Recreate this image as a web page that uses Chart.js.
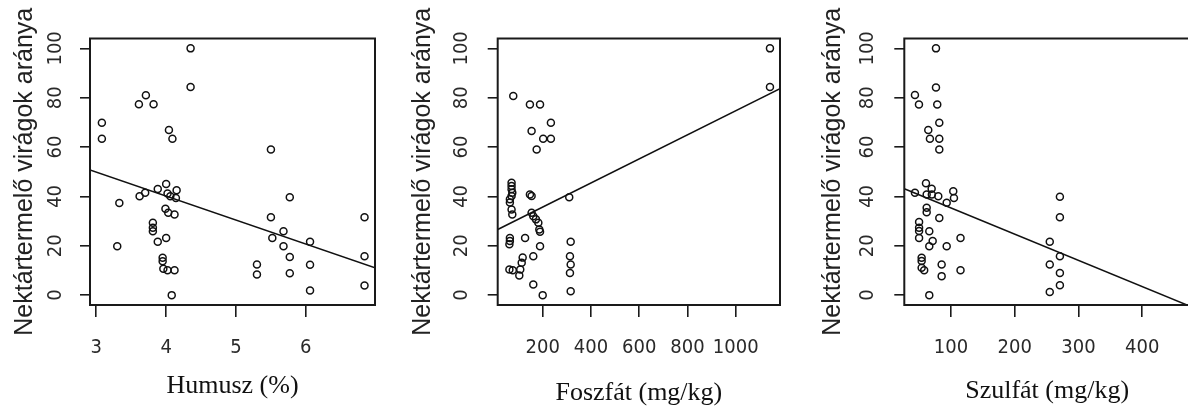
<!DOCTYPE html>
<html><head><meta charset="utf-8">
<script src="https://cdn.jsdelivr.net/npm/chart.js@4.4.1/dist/chart.umd.min.js"></script>
<style>
html,body{margin:0;padding:0;background:#fff;overflow:hidden;width:1188px;height:414px;position:relative;}
canvas{position:absolute;top:0;}
</style></head><body>
<canvas id="c1" width="395" height="414" style="left:0px"></canvas>
<canvas id="c2" width="400" height="414" style="left:395px"></canvas>
<canvas id="c3" width="400" height="414" style="left:795px"></canvas>
<script>
// ---- data ----
const yTicks = [0, 20, 40, 60, 80, 100];
const yLabel = 'Nektártermelő virágok aránya';

const humuszTicks = [3, 4, 5, 6];
const humuszX = [4.35,4.35,3.71,3.61,3.82,3.08,3.08,4.04,4.09,5.50,3.33,3.30,3.62,3.70,3.88,4.00,4.02,4.06,4.15,4.14,3.99,4.03,4.12,3.81,3.81,3.81,4.00,3.88,3.95,3.95,3.96,4.02,4.12,4.08,5.50,5.52,5.30,5.30,5.77,5.68,5.68,5.77,6.06,6.06,5.77,6.06,6.84,6.84,6.84];
const humuszY = [100,84.3,81,77.4,77.4,69.9,63.4,66.9,63.4,59,37.3,19.8,40.1,41.5,43,45,41.2,40.1,42.5,39.4,35,33.4,32.7,29.3,27.3,25.9,23.2,21.6,15.1,13.7,10.7,10.1,10.1,0,31.6,23.2,12.4,8.4,39.7,25.9,19.8,15.5,21.6,12.3,8.9,1.9,31.6,15.8,3.9];
const humuszFitX = [2.91, 6.99];
const humuszFitY = [50.7, 11.1];

const foszfatTicks = [200, 400, 600, 800, 1000];
const foszfatX = [1142,1142,78,147,189,234,154,202,234,175,310,
  71,71,71,74,71,64,64,71,74,
  147,154,154,161,172,182,186,189,127,189,161,161,200,
  64,64,62,62,76,103,107,113,117,
  316,313,316,313,316];
const foszfatY = [100,84.3,80.7,77.3,77.3,69.9,66.5,63.4,63.4,59,39.7,
  45.5,44.2,42.9,41.5,40.2,38.9,37.5,34.7,32.7,
  40.8,40.2,33.4,32,30.7,29.3,26.6,25.7,23.2,19.8,15.8,4.3,0,
  23.2,21.9,20.6,10.4,10.1,8,10.4,13.1,15.2,
  21.6,15.8,12.4,9,1.6];
const foszfatFitX = [13.5, 1183.6];
const foszfatFitY = [26.6, 83.7];

const szulfatTicks = [100, 200, 300, 400];
const szulfatX = [76.5,76.5,43.5,49.8,78.5,81.7,64.4,67,81.7,81.7,
  60.8,69.7,43.5,61.9,70,80.1,93.3,103.6,104.7,61.9,61.9,81.7,
  50,50,50,50,66,71.3,66,93.3,115,
  54,54,54,58,85.4,85.4,115,66,
  270.9,270.9,255,270.9,255,270.9,270.9,255];
const szulfatY = [100,84.1,81.1,77.3,77.3,69.9,66.9,63.4,63.4,59,
  45.3,43.1,41.5,40.8,40.8,40.1,37.4,42.1,39.4,35.4,33.6,31.3,
  29.6,27.3,26,23.2,25.9,21.9,19.8,19.8,23.2,
  15.1,13.8,11.1,10.1,12.4,7.7,10.1,0,
  39.9,31.6,21.6,15.8,12.4,9,4,1.3];
const szulfatFitX = [26.8, 475];
const szulfatFitY = [43.1, -4.5];

// ---- drawing ----
const tickFont = {family: "'Liberation Sans Narrow','DejaVu Sans Condensed','Liberation Sans',Arial,sans-serif", size: 20};
const boxPlugin = {
  id: 'rbox',
  afterDatasetsDraw(chart) {
    const {ctx, chartArea: a} = chart;
    ctx.save();
    ctx.strokeStyle = '#1a1a1a';
    ctx.lineWidth = 2;
    ctx.strokeRect(a.left, a.top, a.right - a.left, a.bottom - a.top);
    ctx.restore();
  }
};

function panel(id, p) {
  const pts = p.xs.map((x, i) => ({x: x, y: p.ys[i]}));
  const fit = p.fx.map((x, i) => ({x: x, y: p.fy[i]}));
  new Chart(document.getElementById(id), {
    type: 'scatter',
    data: {
      datasets: [
        {type: 'scatter', data: pts, pointRadius: 3.5, pointHoverRadius: 3.5, borderWidth: 1.5,
         borderColor: '#111', backgroundColor: 'rgba(0,0,0,0)', pointStyle: 'circle'},
        {type: 'line', data: fit, pointRadius: 0, borderWidth: 1.5, borderColor: '#111',
         backgroundColor: 'rgba(0,0,0,0)', fill: false, tension: 0}
      ]
    },
    options: {
      responsive: false, animation: false, devicePixelRatio: 1,
      events: [],
      layout: {padding: {left: 0, right: p.padRight, top: 38.5, bottom: 0}},
      plugins: {legend: {display: false}, tooltip: {enabled: false}},
      scales: {
        x: {
          type: 'linear', min: p.xMin, max: p.xMax,
          afterBuildTicks: s => { s.ticks = p.ticks.map(v => ({value: v})); },
          afterFit: s => { s.height = 109; },
          grid: {drawOnChartArea: false, drawTicks: true, tickLength: 12, color: '#1a1a1a', lineWidth: 1.6},
          border: {display: false},
          ticks: {font: tickFont, color: '#2a2a2a', padding: 18.5, maxRotation: 0, autoSkip: false,
                  callback: v => String(v)},
          title: {display: true, text: p.title, color: '#111',
                  font: {family: "'Liberation Serif','Times New Roman',serif", size: 26},
                  padding: {top: 0, bottom: p.titlePadBottom}}
        },
        y: {
          type: 'linear', min: -4, max: 104,
          afterBuildTicks: s => { s.ticks = yTicks.map(v => ({value: v})); },
          afterFit: s => { s.width = p.yWidth; },
          grid: {drawOnChartArea: false, drawTicks: true, tickLength: 10, color: '#1a1a1a', lineWidth: 1.6},
          border: {display: false},
          ticks: {font: tickFont, color: '#2a2a2a', padding: p.tickPad, minRotation: 90, maxRotation: 90,
                  crossAlign: 'center', autoSkip: false, callback: v => String(v)},
          title: {display: true, text: yLabel, color: '#222',
                  font: {family: "'Liberation Sans',Arial,sans-serif", size: 25},
                  padding: {top: p.titlePadTop, bottom: 0}}
        }
      }
    },
    plugins: [boxPlugin]
  });
}

panel('c1', {xs: humuszX, ys: humuszY, fx: humuszFitX, fy: humuszFitY, ticks: humuszTicks,
  xMin: 2.91, xMax: 6.99, title: 'Humusz (%)', yWidth: 90, padRight: 20,
  tickPad: 7, titlePadTop: 10, titlePadBottom: 12});
panel('c2', {xs: foszfatX, ys: foszfatY, fx: foszfatFitX, fy: foszfatFitY, ticks: foszfatTicks,
  xMin: 13.5, xMax: 1183.6, title: 'Foszfát (mg/kg)', yWidth: 102.7, padRight: 15,
  tickPad: 9, titlePadTop: 13.5, titlePadBottom: 5});
panel('c3', {xs: szulfatX, ys: szulfatY, fx: szulfatFitX, fy: szulfatFitY, ticks: szulfatTicks,
  xMin: 26.8, xMax: 475, title: 'Szulfát (mg/kg)', yWidth: 109.3, padRight: 5,
  tickPad: 9.5, titlePadTop: 23.5, titlePadBottom: 7});
</script>
</body></html>
